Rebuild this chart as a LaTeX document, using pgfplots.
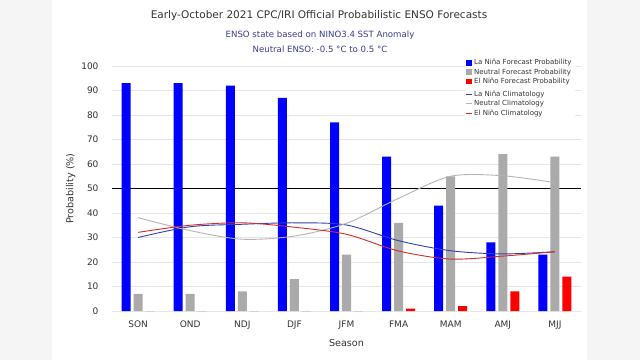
\documentclass[border=0pt]{standalone}
\usepackage{fontspec}
\setmainfont{DejaVu Sans}
\usepackage{pgfplots}
\pgfplotsset{compat=1.18}
\definecolor{nina}{HTML}{0000FF}
\definecolor{neut}{HTML}{AAAAAA}
\definecolor{nino}{HTML}{FF0000}
\definecolor{ninaline}{HTML}{3040B0}
\definecolor{neutline}{HTML}{B4B4B4}
\definecolor{ninoline}{HTML}{D42A2A}
\definecolor{subc}{HTML}{3C3C90}
\definecolor{txt}{HTML}{333333}
\definecolor{gridc}{HTML}{E6E6E6}
\begin{document}
\begin{tikzpicture}
\fill[white] (0pt,0pt) rectangle (640pt,360pt);
\fill[black!4] (0pt,0pt) rectangle (52pt,360pt);
\fill[black!4] (587pt,0pt) rectangle (640pt,360pt);
\node[font=\fontsize{10.5}{12}\selectfont, text=txt] at (319pt,344pt) {Early-October 2021 CPC/IRI Official Probabilistic ENSO Forecasts};
\node[font=\fontsize{8.6}{10}\selectfont, text=subc] at (320pt,325pt) {ENSO state based on NINO3.4 SST Anomaly};
\node[font=\fontsize{8.6}{10}\selectfont, text=subc] at (320pt,311pt) {Neutral ENSO: -0.5 °C to 0.5 °C};
\begin{axis}[
  at={(112pt,49pt)}, anchor=south west, scale only axis,
  width=469pt, height=245pt,
  xmin=-0.5, xmax=8.5, ymin=0, ymax=100,
  ytick={0,10,...,100},
  xtick={0,...,8},
  xticklabels={SON,OND,NDJ,DJF,JFM,FMA,MAM,AMJ,MJJ},
  axis line style={draw=none},
  major tick length=0,
  ymajorgrids, grid style={gridc, line width=0.8pt},
  tick label style={font=\fontsize{9}{11}\selectfont, text=txt},
  /pgf/number format/assume math mode=true,
  yticklabel style={xshift=-10pt},
  xticklabel style={yshift=-6pt},
  xlabel={Season}, ylabel={Probability (\%)},
  label style={font=\fontsize{9.6}{12}\selectfont, text=txt},
  xlabel style={yshift=-4pt},
  ylabel style={yshift=-1pt},
  legend style={at={(0.752,1.04)}, anchor=north west, draw=none, fill=white,
    font=\fontsize{7}{8}\selectfont, text=txt, row sep=-1.6pt, inner sep=1pt,
    cells={anchor=west}},
]
\addplot[black, line width=1pt, forget plot] coordinates {(-0.5,50) (8.5,50)};
\addplot[ybar, bar width=0.173, bar shift=-0.23, fill=nina, draw=none,
  legend image code/.code={\fill[fill=nina] (0pt,-2.8pt) rectangle (5.6pt,2.8pt);}]
  coordinates {(0,93) (1,93) (2,92) (3,87) (4,77) (5,63) (6,43) (7,28) (8,23)};
\addlegendentry{La Niña Forecast Probability}
\addplot[ybar, bar width=0.173, bar shift=0, fill=neut, draw=none,
  legend image code/.code={\fill[fill=neut] (0pt,-2.8pt) rectangle (5.6pt,2.8pt);}]
  coordinates {(0,7) (1,7) (2,8) (3,13) (4,23) (5,36) (6,55) (7,64) (8,63)};
\addlegendentry{Neutral Forecast Probability}
\addplot[ybar, bar width=0.173, bar shift=0.23, fill=nino, draw=none,
  legend image code/.code={\fill[fill=nino] (0pt,-2.8pt) rectangle (5.6pt,2.8pt);}]
  coordinates {(0,0) (1,0) (2,0) (3,0) (4,0) (5,1) (6,2) (7,8) (8,14)};
\addlegendentry{El Niño Forecast Probability}
\addlegendimage{empty legend}
\addlegendentry{}
\addplot[smooth, tension=0.5, ninaline, line width=0.9pt,
  legend image code/.code={\draw[draw=ninaline, line width=1pt] (0.3pt,0pt) -- (5.6pt,0pt);}]
  coordinates {(0,30) (1,34.4) (2,35.4) (3,36) (4,35.1) (5,28.7) (6,24.6) (7,23.3) (8,24.2)};
\addlegendentry{La Niña Climatology}
\addplot[smooth, tension=0.5, neutline, line width=0.9pt,
  legend image code/.code={\draw[draw=neutline, line width=1pt] (0.3pt,0pt) -- (5.6pt,0pt);}]
  coordinates {(0,38.1) (1,32.8) (2,29.3) (3,30.6) (4,35.8) (5,46) (6,55) (7,55.2) (8,52.4)};
\addlegendentry{Neutral Climatology}
\addplot[smooth, tension=0.5, ninoline, line width=0.9pt,
  legend image code/.code={\draw[draw=ninoline, line width=1pt] (0.3pt,0pt) -- (5.6pt,0pt);}]
  coordinates {(0,32.1) (1,35) (2,36) (3,34.2) (4,31.3) (5,24.5) (6,21.2) (7,22.4) (8,24.2)};
\addlegendentry{El Niño Climatology}
\end{axis}
\end{tikzpicture}
\end{document}
